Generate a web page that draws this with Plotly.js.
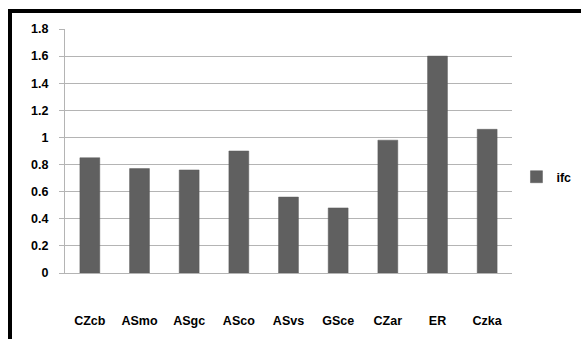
<!DOCTYPE html>
<html>
<head>
<meta charset="utf-8">
<script src="https://cdn.plot.ly/plotly-3.0.1.min.js"></script>
<style>
html,body{margin:0;padding:0;background:#fff;overflow:hidden;}
#wrap{position:relative;width:581px;height:339px;}
#chart{width:581px;height:339px;}
#frameTop{position:absolute;left:8px;top:9px;width:573px;height:4px;background:#000;z-index:10;}
#frameLeft{position:absolute;left:8px;top:9px;width:4px;height:330px;background:#000;z-index:10;}
</style>
</head>
<body>
<div id="wrap">
<div id="chart"></div>
<div id="frameTop"></div>
<div id="frameLeft"></div>
</div>
<script>
const categories = ["CZcb","ASmo","ASgc","ASco","ASvs","GSce","CZar","ER","Czka"];
const ifcValues = [0.85, 0.77, 0.76, 0.90, 0.56, 0.48, 0.98, 1.60, 1.06];
const yTickValues = [0, 0.2, 0.4, 0.6, 0.8, 1, 1.2, 1.4, 1.6, 1.8];
const yTickLabels = ["0","0.2","0.4","0.6","0.8","1","1.2","1.4","1.6","1.8"];
const seriesName = "ifc";

const fontFam = "Liberation Sans, Arial, sans-serif";
const gridCol = "#b4b4b4";

const trace = {
  type: "bar",
  x: categories,
  y: ifcValues,
  name: seriesName,
  marker: {color: "#606060", line: {color: "#5a5a5a", width: 0.5}},
  showlegend: true
};

const layout = {
  width: 581,
  height: 339,
  margin: {l: 65, r: 68.5, t: 29, b: 66, autoexpand: false},
  paper_bgcolor: "#ffffff",
  plot_bgcolor: "#ffffff",
  bargap: 0.6,
  font: {family: fontFam, size: 12, color: "#000"},
  showlegend: true,
  legend: {
    x: 1.01, xanchor: "left",
    y: 0.393, yanchor: "middle",
    font: {family: fontFam, size: 12.5, color: "#000", weight: "bold"},
    itemwidth: 30,
    bgcolor: "rgba(0,0,0,0)"
  },
  xaxis: {
    type: "category",
    tickfont: {family: fontFam, size: 12.5, color: "#000", weight: "bold"},
    showline: true, linecolor: gridCol, linewidth: 1,
    ticks: "", showgrid: false,
    ticklabelstandoff: 36,
    fixedrange: true
  },
  yaxis: {
    range: [0, 1.8],
    tickvals: yTickValues,
    ticktext: yTickLabels,
    tickfont: {family: fontFam, size: 12.5, color: "#000", weight: "bold"},
    showgrid: true, gridcolor: gridCol, gridwidth: 1,
    showline: true, linecolor: gridCol, linewidth: 1,
    ticks: "outside", ticklen: 5, tickcolor: gridCol,
    ticklabelstandoff: 8,
    zeroline: false,
    fixedrange: true
  }
};

Plotly.newPlot("chart", [trace], layout, {displayModeBar: false, staticPlot: true});
</script>
</body>
</html>
